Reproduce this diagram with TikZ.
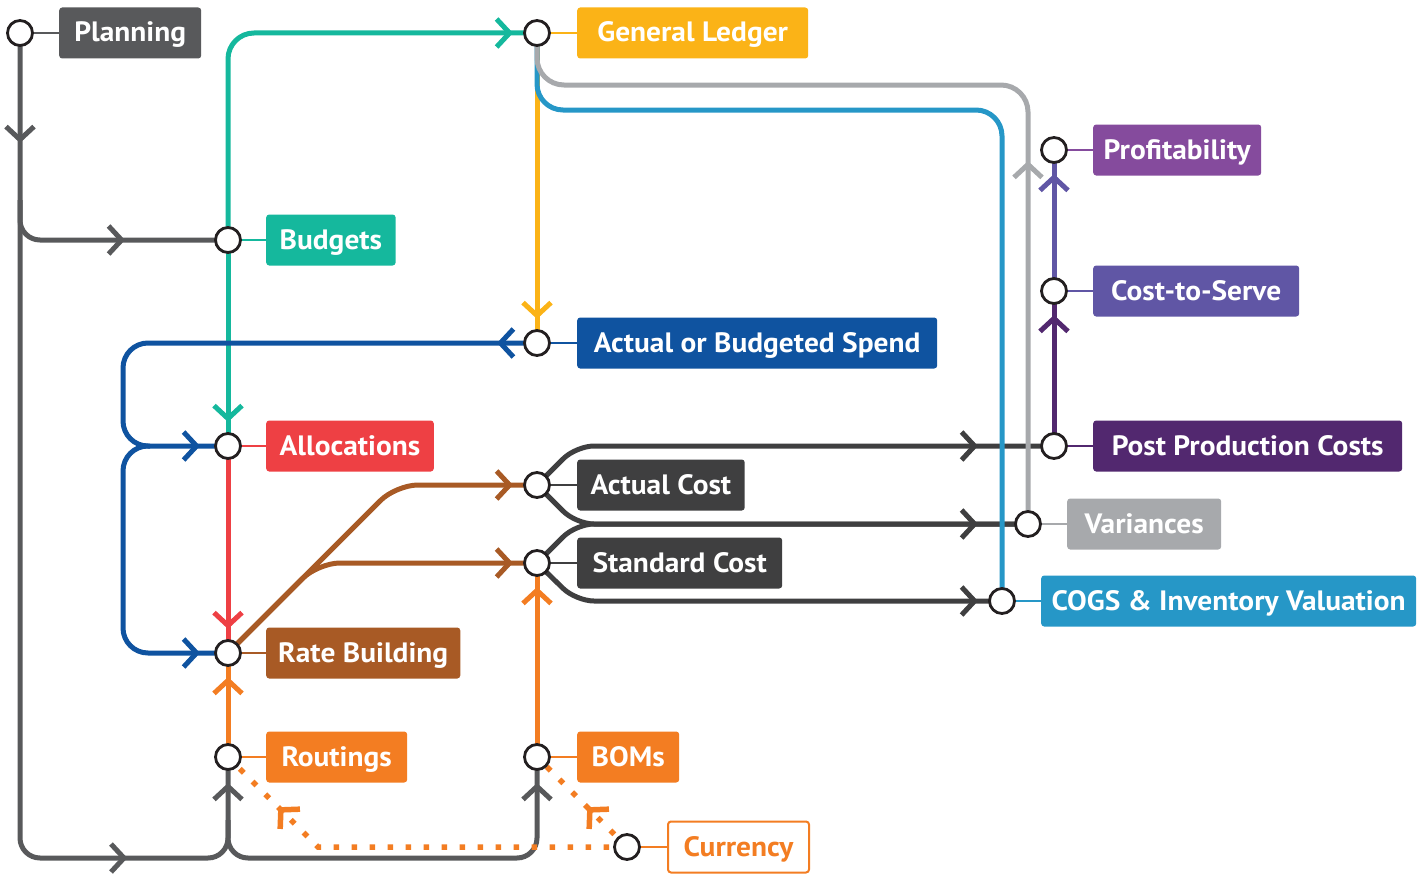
\documentclass[tikz,border=0pt]{standalone}
\usepackage{fontspec}
\setmainfont{PT Sans}[FakeStretch=1.05]
\usetikzlibrary{arrows.meta,decorations.markings,backgrounds}
\definecolor{cRing}{HTML}{231F20}
\definecolor{cPlan}{HTML}{58595B}
\definecolor{cGL}{HTML}{FBB317}
\definecolor{cBud}{HTML}{15B89D}
\definecolor{cABS}{HTML}{0F53A0}
\definecolor{cAlloc}{HTML}{EE4044}
\definecolor{cDark}{HTML}{3F3F40}
\definecolor{cRB}{HTML}{A85A25}
\definecolor{cOr}{HTML}{F37D22}
\definecolor{cProf}{HTML}{854B9D}
\definecolor{cCTS}{HTML}{6056A5}
\definecolor{cPPC}{HTML}{52286F}
\definecolor{cVar}{HTML}{A7A9AC}
\definecolor{cCOGS}{HTML}{2697C7}
\tikzset{
  chev/.tip={Straight Barb[length=13pt,width=28pt]},
  mk/.style={postaction={decorate,decoration={markings,mark=at position #1 with {\arrow{chev}}}}},
  rail/.style={line width=5pt, rounded corners=20pt},
  dotline/.style={line width=5.5pt, dash pattern=on 5.5pt off 12.5pt},
  stub/.style={line width=2.5pt},
  stn/.style={circle, draw=cRing, fill=white, line width=2.8pt, minimum size=25pt, inner sep=0pt},
  lab/.style={anchor=west, rounded corners=3pt, minimum height=51pt, inner xsep=13.5pt, inner ysep=0pt,
    text height=21pt, text depth=3pt, text=white, font=\fontsize{28}{28}\selectfont\bfseries},
}
\begin{document}
\begin{tikzpicture}[x=1pt,y=-1pt]
\useasboundingbox (0,0) rectangle (1426,875);
% stations
\node[stn] (plan) at (20,33) {};
\node[stn] (gl) at (537,33) {};
\node[stn] (budg) at (228,240) {};
\node[stn] (abs) at (537,343) {};
\node[stn] (alloc) at (228,446) {};
\node[stn] (ac) at (537,485) {};
\node[stn] (sc) at (537,563) {};
\node[stn] (rb) at (228,653) {};
\node[stn] (rout) at (228,757) {};
\node[stn] (boms) at (537,757) {};
\node[stn] (cur) at (627,847) {};
\node[stn] (prof) at (1054,150) {};
\node[stn] (cts) at (1054,291) {};
\node[stn] (ppc) at (1054,446) {};
\node[stn] (var) at (1028,524) {};
\node[stn] (cogs) at (1002,601) {};
% labels
\node[lab, fill=cPlan, minimum width=142pt] (lplan) at (59,33) {Planning};
\node[lab, fill=cGL, minimum width=231pt] (lgl) at (577,33) {General Ledger};
\node[lab, fill=cBud] (lbudg) at (266,240) {Budgets};
\node[lab, fill=cABS, minimum width=360pt] (labs) at (577,343) {Actual or Budgeted Spend};
\node[lab, fill=cAlloc] (lalloc) at (266,446) {Allocations};
\node[lab, fill=cDark] (lac) at (577,485) {Actual Cost};
\node[lab, fill=cDark, minimum width=205pt] (lsc) at (577,563) {Standard Cost};
\node[lab, fill=cRB, inner xsep=12pt] (lrb) at (266,653) {Rate Building};
\node[lab, fill=cOr, minimum width=141pt] (lrout) at (266,757) {Routings};
\node[lab, fill=cOr, minimum width=102pt] (lboms) at (577,757) {BOMs};
\node[lab, fill=white, draw=cOr, line width=2pt, text=cOr, minimum width=141pt] (lcur) at (667,847) {Currency};
\node[lab, fill=cProf, inner xsep=10.5pt] (lprof) at (1093,150) {Profitability};
\node[lab, fill=cCTS, minimum width=206pt] (lcts) at (1093,291) {Cost-to-Serve};
\node[lab, fill=cPPC, minimum width=309pt] (lppc) at (1093,446) {Post Production Costs};
\node[lab, fill=cVar, minimum width=154pt] (lvar) at (1067,524) {Variances};
\node[lab, fill=cCOGS, inner xsep=10.5pt] (lcogs) at (1041,601) {COGS \& Inventory Valuation};
\coordinate (pb) at (20,200);
\coordinate (pc) at (228,820);
\coordinate (pd) at (150,446);
\begin{scope}[on background layer]
% stubs
\draw[stub, cPlan] (plan) -- (lplan);
\draw[stub, cGL] (gl) -- (lgl);
\draw[stub, cBud] (budg) -- (lbudg);
\draw[stub, cABS] (abs) -- (labs);
\draw[stub, cAlloc] (alloc) -- (lalloc);
\draw[stub, cDark] (ac) -- (lac);
\draw[stub, cDark] (sc) -- (lsc);
\draw[stub, cRB] (rb) -- (lrb);
\draw[stub, cOr] (rout) -- (lrout);
\draw[stub, cOr] (boms) -- (lboms);
\draw[stub, cOr] (cur) -- (lcur);
\draw[stub, cProf] (prof) -- (lprof);
\draw[stub, cCTS] (cts) -- (lcts);
\draw[stub, cPPC] (ppc) -- (lppc);
\draw[stub, cVar] (var) -- (lvar);
\draw[stub, cCOGS] (cogs) -- (lcogs);
% rails
\draw[rail, cGL, mk=-24pt] (gl.center) -- (abs.center);
\draw[rail, cDark, rounded corners=18pt, mk=-76pt] (ac.center) -- (576,446) -- (ppc.center);
\draw[rail, cDark, rounded corners=18pt, mk=-50pt] (ac.center) -- (576,524) -- (var.center);
\draw[rail, cDark, rounded corners=18pt] (sc.center) -- (576,524) -- (var.center);
\draw[rail, cDark, rounded corners=18pt, mk=-24pt] (sc.center) -- (576,601) -- (cogs.center);
\draw[rail, cCOGS, rounded corners=26pt] (gl.center) -- (537,110) -- (1002,110) -- (cogs.center);
\draw[rail, cVar, rounded corners=27pt, mk=363pt] (var.center) -- (1028,85) -- (537,85) -- (gl.center);
\draw[rail, cBud, rounded corners=26pt, mk=-24pt] (budg.center) -- (228,33) -- (gl.center);
\draw[rail, cBud, mk=-24pt] (budg.center) -- (alloc.center);
\draw[rail, cPlan, mk=110pt, mk=-193pt, mk=-26pt] (plan.center) -- (20,858) -- (228,858) -- (rout.center);
\draw[rail, cPlan, mk=-103pt] (pb) -- (20,240) -- (budg.center);
\draw[rail, cPlan, mk=-26pt] (pc) -- (228,858) -- (537,858) -- (boms.center);
\draw[rail, cABS, rounded corners=25pt, mk=40pt, mk=-28pt] (abs.center) -- (123,343) -- (123,446) -- (alloc.center);
\draw[rail, cABS, rounded corners=25pt, mk=-28pt] (pd) -- (123,446) -- (123,653) -- (rb.center);
\draw[rail, cAlloc, mk=-24pt] (alloc.center) -- (rb.center);
\draw[rail, cRB, rounded corners=22pt, mk=-24pt] (rb.center) -- (396,485) -- (ac.center);
\draw[rail, cRB, rounded corners=22pt, mk=-24pt] (rb.center) -- (318,563) -- (sc.center);
\draw[rail, cOr, mk=-24pt] (rout.center) -- (rb.center);
\draw[rail, cOr, mk=-24pt] (boms.center) -- (sc.center);
\draw[rail, cPPC, mk=-24pt] (ppc.center) -- (cts.center);
\draw[rail, cCTS, mk=-24pt] (cts.center) -- (prof.center);
\draw[dotline, cOr, mk=-71pt] (cur.center) -- (318,847) -- (rout.center);
\draw[dotline, cOr, mk=-71pt] (cur.center) -- (boms.center);
\end{scope}
\end{tikzpicture}
\end{document}
